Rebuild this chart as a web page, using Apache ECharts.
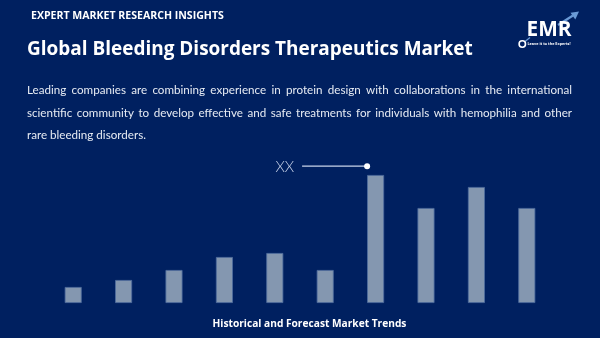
<!DOCTYPE html>
<html>
<head>
<meta charset="utf-8">
<script src="https://cdn.jsdelivr.net/npm/echarts@6/dist/echarts.min.js"></script>
<style>
  html, body { margin: 0; padding: 0; background: #002060; }
  #chart { width: 600px; height: 338px; }
</style>
</head>
<body>
<div id="chart"></div>
<script>
// Market size by year (relative units)
const categories = ['2018', '2019', '2020', '2021', '2022', '2023', '2024', '2025', '2026', '2027'];
const values = [1.6, 2.3, 3.3, 4.6, 5.0, 3.3, 12.8, 9.5, 11.6, 9.5];

// Callout on the highlighted bar
const calloutIndex = 6;
const calloutLabel = 'XX';

// Header and caption texts
const kicker = 'EXPERT MARKET RESEARCH INSIGHTS';
const heading = 'Global Bleeding Disorders Therapeutics Market';
const paragraphLines = [
  'Leading companies are combining experience in protein design with collaborations in the international',
  'scientific community to develop effective and safe treatments for individuals with hemophilia and other',
  'rare bleeding disorders.'
];
const footer = 'Historical and Forecast Market Trends';

const BG = '#002060';
const BAR = '#8497b0';

const chart = echarts.init(document.getElementById('chart'), null, { renderer: 'canvas' });

// text measuring helper
const mctx = document.createElement('canvas').getContext('2d');
function measure(text, font) { mctx.font = font; return mctx.measureText(text).width; }
function fitSize(text, weight, family, target) {
  const w = measure(text, weight + ' 100px ' + family);
  return 100 * target / w;
}

const SANS = '"Open Sans", "Noto Sans", sans-serif';
const PARA = 'Lato, "Open Sans", sans-serif';

// kicker, heading, footer sizes fitted to their line widths
const kickerSize = fitSize(kicker, 'bold', SANS, 193);
const headingSize = fitSize(heading, 'bold', SANS, 446);
const footerSize = fitSize(footer, 'bold', SANS, 194);
const paraSize = Math.min(12.5, fitSize(paragraphLines[2], 'normal', PARA, 119));

const elements = [];
elements.push({ type: 'text', x: 31, y: 15.8, style: { text: kicker, fill: '#ffffff', font: 'bold ' + kickerSize.toFixed(2) + 'px ' + SANS, textVerticalAlign: 'middle' } });
elements.push({ type: 'text', x: 27, y: 50, style: { text: heading, fill: '#ffffff', font: 'bold ' + headingSize.toFixed(2) + 'px ' + SANS, textVerticalAlign: 'middle' } });
elements.push({ type: 'text', x: 309.5, y: 324.5, style: { text: footer, fill: '#ffffff', font: 'bold ' + footerSize.toFixed(2) + 'px ' + SANS, textAlign: 'center', textVerticalAlign: 'middle' } });

// justified paragraph
const paraLeft = 27, paraRight = 572;
const paraY = [90, 113, 135];
const paraFont = paraSize.toFixed(2) + 'px ' + PARA;
paragraphLines.forEach((line, i) => {
  const words = line.split(' ');
  const last = i === paragraphLines.length - 1;
  if (last) {
    elements.push({ type: 'text', x: paraLeft, y: paraY[i], style: { text: line, fill: '#e6ebf3', font: paraFont, textVerticalAlign: 'middle' } });
    return;
  }
  const widths = words.map(w => measure(w, paraFont));
  const total = widths.reduce((a, b) => a + b, 0);
  const gap = (paraRight - paraLeft - total) / (words.length - 1);
  let x = paraLeft;
  words.forEach((w, j) => {
    elements.push({ type: 'text', x: x, y: paraY[i], style: { text: w, fill: '#e6ebf3', font: paraFont, textVerticalAlign: 'middle' } });
    x += widths[j] + gap;
  });
});

// EMR logo
const logoSize = fitSize('EMR', 'bold', SANS, 45);
elements.push({ type: 'line', shape: { x1: 558, y1: 25, x2: 573, y2: 15.5 }, style: { stroke: '#6a9ad6', lineWidth: 2.2 } });
elements.push({ type: 'polygon', shape: { points: [[579, 11.5], [570.5, 12.8], [575.3, 19.6]] }, style: { fill: '#6a9ad6' } });
elements.push({ type: 'text', x: 526.5, y: 30.5, style: { text: 'EMR', fill: '#ffffff', font: 'bold ' + logoSize.toFixed(2) + 'px ' + SANS, textVerticalAlign: 'middle' } });
elements.push({ type: 'line', shape: { x1: 525, y1: 41.5, x2: 530, y2: 37.5 }, style: { stroke: '#6a9ad6', lineWidth: 1.2 } });
elements.push({ type: 'circle', shape: { cx: 522.3, cy: 44, r: 3.2 }, style: { fill: 'none', stroke: '#ffffff', lineWidth: 1.6 } });
elements.push({ type: 'text', x: 527.5, y: 43.6, style: { text: 'Leave it to the Experts!', fill: '#ffffff', font: 'bold ' + fitSize('Leave it to the Experts!', 'bold', SANS, 43).toFixed(2) + 'px ' + SANS, textVerticalAlign: 'middle' } });

chart.setOption({
  backgroundColor: BG,
  animation: false,
  grid: { left: 48, right: 48, top: 163, bottom: 35 },
  xAxis: {
    type: 'category',
    data: categories,
    boundaryGap: true,
    axisLine: { show: false },
    axisTick: { show: false },
    axisLabel: { show: false }
  },
  yAxis: {
    type: 'value',
    min: 0,
    max: 14,
    show: false,
    splitLine: { show: false }
  },
  series: [{
    type: 'bar',
    data: values,
    barWidth: 17,
    itemStyle: { color: BAR, borderColor: '#4f6d9e', borderWidth: 0.8 }
  }],
  graphic: elements
});

// callout: dot and leader line beside the highlighted bar, with its label
const barWidth = 17;
const barTop = chart.convertToPixel({ seriesIndex: 0 }, [calloutIndex, values[calloutIndex]]);
const dotX = barTop[0] - barWidth / 2;
const dotY = barTop[1] - 8.8;
chart.setOption({
  graphic: elements.concat([
    { type: 'line', shape: { x1: dotX - 65, y1: dotY, x2: dotX, y2: dotY }, style: { stroke: '#c9d4ea', lineWidth: 1.2 } },
    { type: 'circle', shape: { cx: dotX, cy: dotY, r: 3 }, style: { fill: '#ffffff' } },
    { type: 'text', x: dotX - 73, y: dotY + 0.5, style: { text: calloutLabel, fill: '#c9d4ea', font: '300 15px Lato, "Open Sans", sans-serif', textAlign: 'right', textVerticalAlign: 'middle' } }
  ])
});
</script>
</body>
</html>
